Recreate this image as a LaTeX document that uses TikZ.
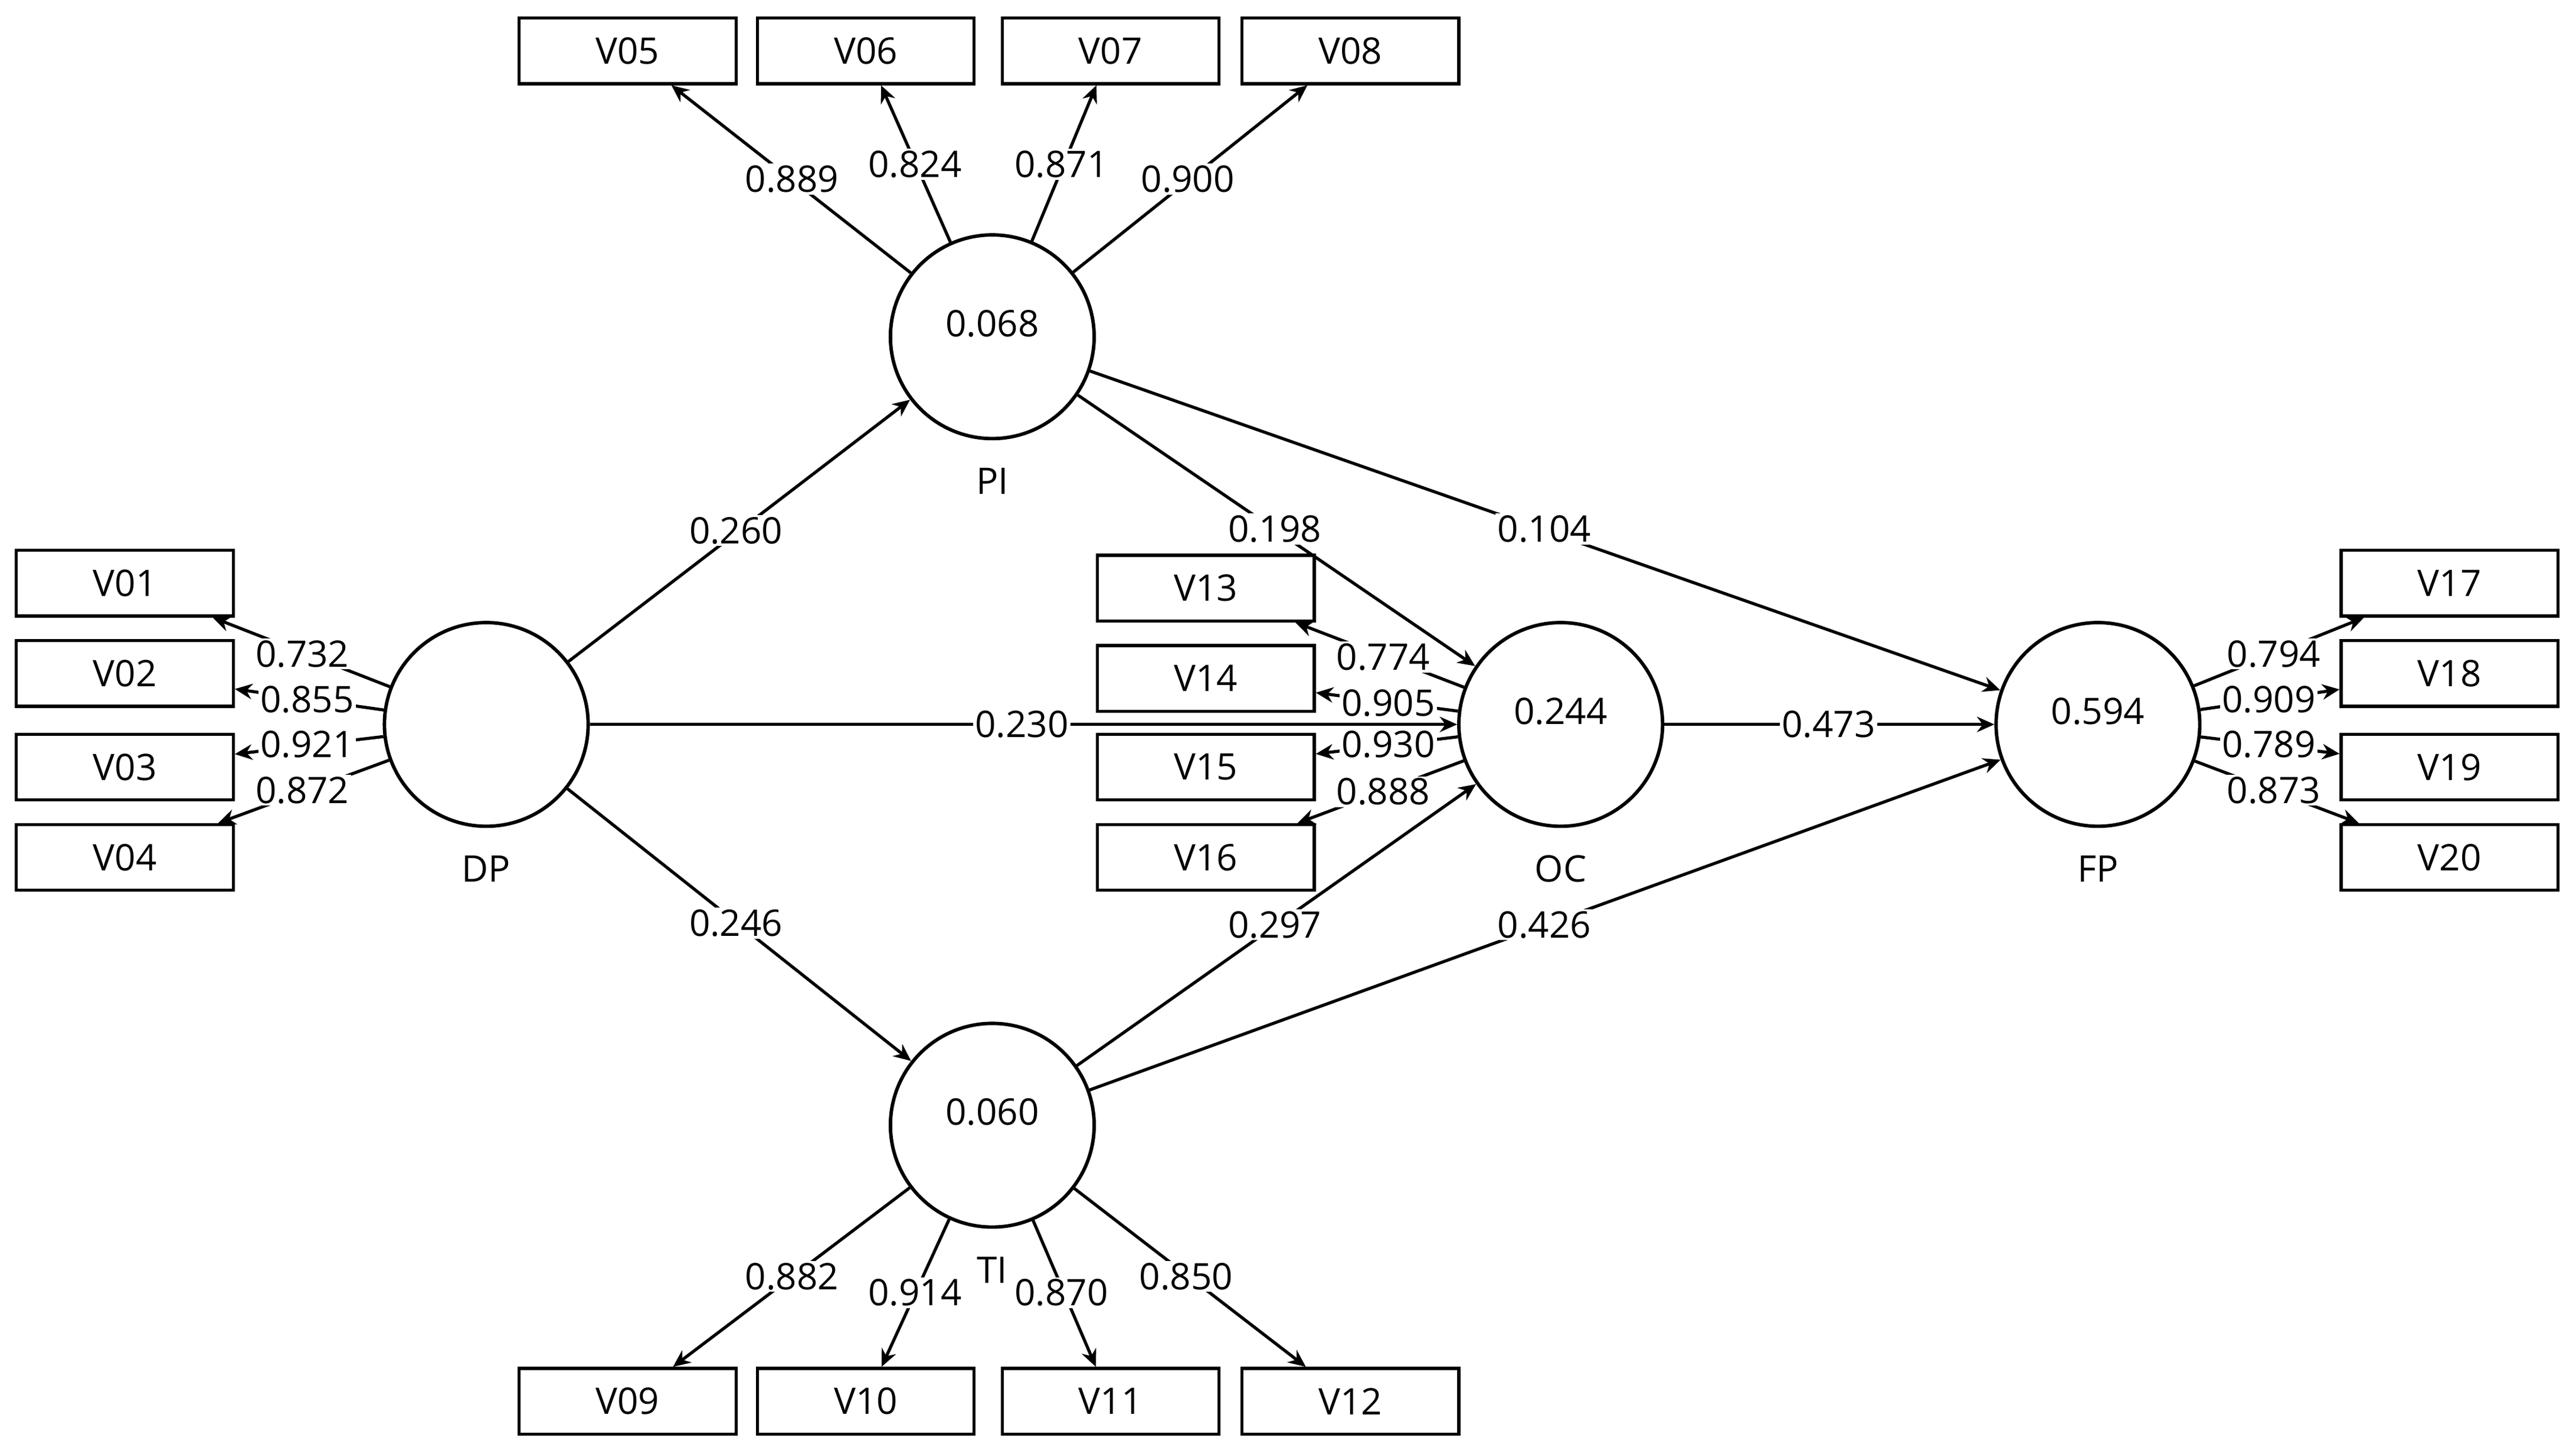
\documentclass[tikz,border=0pt]{standalone}
\usepackage{fontspec}
\setmainfont{Open Sans}
\usetikzlibrary{arrows.meta}
\begin{document}
\begin{tikzpicture}[x=0.03cm,y=-0.03cm,font=\fontsize{19}{22}\selectfont,
  lv/.style={circle,draw,line width=1.8pt,minimum size=3.72cm,inner sep=0pt},
  mv/.style={rectangle,draw,line width=1.6pt,minimum width=3.96cm,minimum height=1.2cm,inner sep=0pt},
  ar/.style={line width=1.6pt,-{Stealth[length=9pt,width=8pt]}},
  lb/.style={fill=white,inner sep=1pt},
  val/.style={font=\fontsize{19}{22}\selectfont},
  nm/.style={font=\fontsize{19}{22}\selectfont}]
\useasboundingbox (0,0) rectangle (1568,883);
\node[lv] (PI) at (604,205) {};
\node[lv] (DP) at (296,441) {};
\node[lv] (TI) at (604,685) {};
\node[lv] (OC) at (950,441) {};
\node[lv] (FP) at (1277,441) {};
\node[val] (vPI) at (604,197) {0.068};
\node[val] (vTI) at (604,677) {0.060};
\node[val] (vOC) at (950,433) {0.244};
\node[val] (vFP) at (1277,433) {0.594};
\node[nm] (nPI) at (604,293) {PI};
\node[nm] (nDP) at (296,529) {DP};
\node[nm] (nTI) at (604,773) {TI};
\node[nm] (nOC) at (950,529) {OC};
\node[nm] (nFP) at (1277,529) {FP};
\foreach \n/\x in {05/382,06/527,07/676,08/822}{\node[mv] (V\n) at (\x,31) {V\n};}
\foreach \n/\x in {09/382,10/527,11/676,12/822}{\node[mv] (V\n) at (\x,853) {V\n};}
\foreach \n/\y in {01/355,02/410,03/467,04/522}{\node[mv] (V\n) at (76,\y) {V\n};}
\foreach \n/\y in {13/358,14/413,15/467,16/522}{\node[mv] (V\n) at (734,\y) {V\n};}
\foreach \n/\y in {17/355,18/410,19/467,20/522}{\node[mv] (V\n) at (1491,\y) {V\n};}
% structural paths
\draw[ar] (DP) -- (PI); \node[lb] at (448,323) {0.260};
\draw[ar] (DP) -- (TI); \node[lb] at (448,562) {0.246};
\draw[ar] (PI) -- (OC); \node[lb] at (776,322) {0.198};
\draw[ar] (TI) -- (OC); \node[lb] at (776,563) {0.297};
\draw[ar] (PI) -- (FP); \node[lb] at (940,322) {0.104};
\draw[ar] (TI) -- (FP); \node[lb] at (940,563) {0.426};
\draw[ar] (OC) -- (FP); \node[lb] at (1113,441) {0.473};
\draw[ar] (DP) -- (OC); \node[lb] at (622,441) {0.230};
% loadings
\draw[ar] (PI) -- (V05); \node[lb] at (482,109) {0.889};
\draw[ar] (PI) -- (V06); \node[lb] at (557,100) {0.824};
\draw[ar] (PI) -- (V07); \node[lb] at (646,100) {0.871};
\draw[ar] (PI) -- (V08); \node[lb] at (723,109) {0.900};
\draw[ar] (TI) -- (V09); \node[lb] at (482,777) {0.882};
\draw[ar] (TI) -- (V10); \node[lb] at (557,787) {0.914};
\draw[ar] (TI) -- (V11); \node[lb] at (646,787) {0.870};
\draw[ar] (TI) -- (V12); \node[lb] at (722,777) {0.850};
\draw[ar] (DP) -- (V01); \node[lb] at (184,398) {0.732};
\draw[ar] (DP) -- (V02); \node[lb] at (187,426) {0.855};
\draw[ar] (DP) -- (V03); \node[lb] at (187,453) {0.921};
\draw[ar] (DP) -- (V04); \node[lb] at (184,481) {0.872};
\draw[ar] (OC) -- (V13); \node[lb] at (842,400) {0.774};
\draw[ar] (OC) -- (V14); \node[lb] at (845,428) {0.905};
\draw[ar] (OC) -- (V15); \node[lb] at (845,453) {0.930};
\draw[ar] (OC) -- (V16); \node[lb] at (842,482) {0.888};
\draw[ar] (FP) -- (V17); \node[lb] at (1384,398) {0.794};
\draw[ar] (FP) -- (V18); \node[lb] at (1381,426) {0.909};
\draw[ar] (FP) -- (V19); \node[lb] at (1381,453) {0.789};
\draw[ar] (FP) -- (V20); \node[lb] at (1384,481) {0.873};
\end{tikzpicture}
\end{document}
